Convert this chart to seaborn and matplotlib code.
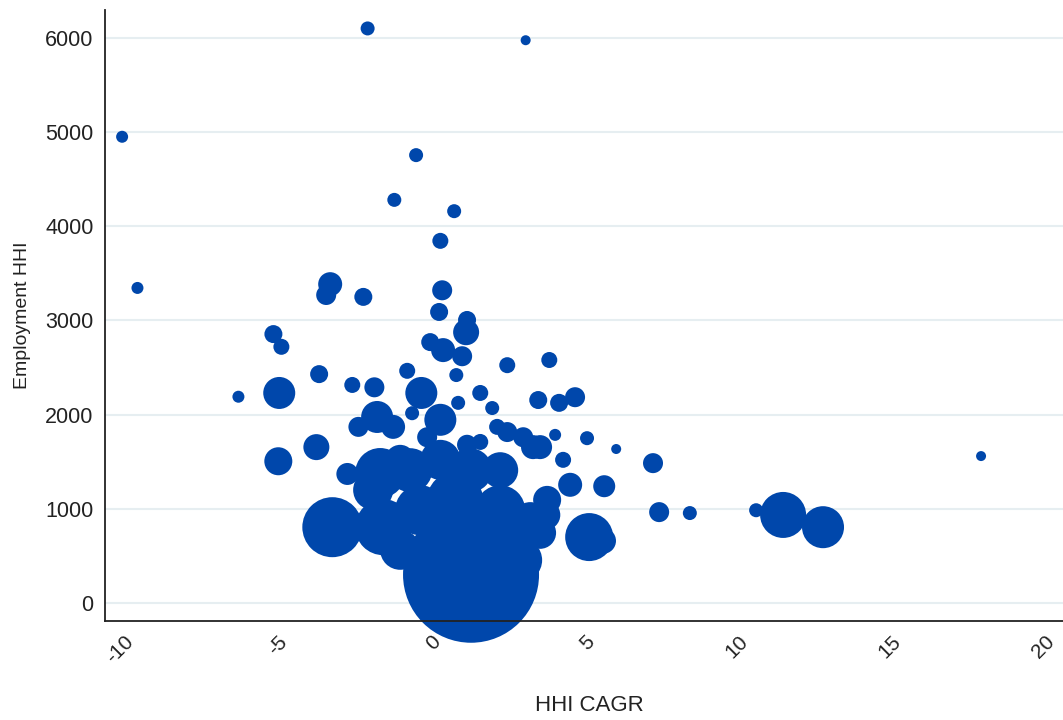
import matplotlib

matplotlib.use("Agg")
import matplotlib.pyplot as plt
import matplotlib.transforms as mtransforms
import numpy as np
import pandas as pd
import seaborn as sns

# HHI CAGR (%) per market
hhi_cagr = [
    -10.3, -9.8, -2.3, 2.85, -0.72, -1.43, 0.52, 0.07, -3.52, -3.65,
    -2.44, -5.37, -5.11, -6.51, -5.18, -3.88, -2.80, -2.08, -1.01, -0.55,
    -5.21, -3.97, -2.96, -3.45, -1.79, 1.07, 0.13, 0.03, 0.94, 0.91,
    -0.26, 0.16, 0.78, 0.59, 2.25, 3.62, 1.37, 0.65, 1.76, 3.26,
    3.94, 4.46, -0.85, 0.07, -1.99, -2.6, 3.81, 4.85, 1.92, 5.8,
    7.0, 4.07, 5.41, 4.3, 7.2, 8.2, 10.36, 11.24, 12.54, 17.69,
    4.92, 5.37, 3.32, 2.77, 3.55, 3.32, 2.67, -1.47, -0.36, -1.89,
    -0.91, 0.07, 1.04, 2.02, -0.59, 0.55, 2.02, 3.0, -1.24, 3.49,
    2.25, 3.09, 0.94, 1.37, -1.24, -2.12,
]

# Employment HHI per market
employment_hhi = [
    4950, 3345, 6100, 5975, 4755, 4280, 4160, 3845, 3385, 3270,
    3250, 2855, 2720, 2190, 2230, 2430, 2315, 2290, 2465, 2230,
    1505, 1655, 1370, 805, 805, 300, 3320, 3090, 3005, 2875,
    2770, 2685, 2620, 2420, 2525, 2580, 2230, 2125, 2070, 2155,
    2125, 2185, 2015, 1945, 1975, 1870, 1785, 1750, 1870, 1635,
    1485, 1520, 1240, 1255, 965, 955, 985, 935, 805, 1560,
    700, 660, 1655, 1760, 1095, 745, 455, 1870, 1760, 1380,
    1410, 1520, 1410, 1410, 985, 1095, 985, 880, 565, 935,
    1815, 1655, 1680, 1710, 1520, 1200,
]

# total employment per market (bubble area, relative units)
employment = [
    36, 36, 49, 25, 49, 49, 49, 64, 144, 100,
    81, 81, 64, 36, 256, 81, 64, 100, 64, 256,
    196, 169, 121, 900, 784, 4624, 100, 81, 81, 169,
    81, 144, 100, 49, 64, 64, 64, 49, 49, 81,
    81, 100, 49, 256, 256, 100, 36, 49, 64, 25,
    100, 64, 121, 144, 100, 49, 49, 529, 441, 25,
    576, 169, 144, 100, 196, 256, 484, 144, 100, 625,
    484, 400, 484, 324, 625, 784, 625, 324, 400, 225,
    100, 144, 100, 64, 225, 400,
]

df = pd.DataFrame({"HHI CAGR": hhi_cagr, "Employment HHI": employment_hhi, "Employment": employment})

DPI = 100
# marker area in points^2 proportional to employment (radius in px ~ sqrt(employment))
px_to_pt = 72 / DPI
emin, emax = min(employment), max(employment)
size_range = ((2 * px_to_pt) ** 2 * emin, (2 * px_to_pt) ** 2 * emax)

sns.set_style("white")
plt.rcParams["font.family"] = ["Liberation Sans", "DejaVu Sans"]
plt.rcParams["axes.unicode_minus"] = False

fig = plt.figure(figsize=(10.63, 7.2), dpi=DPI)
ax = fig.add_axes([0.099, 0.1375, 0.901, 0.8485])

sns.scatterplot(
    data=df, x="HHI CAGR", y="Employment HHI", size="Employment",
    sizes=size_range, size_norm=(emin, emax), color="#0047AB",
    edgecolor="none", alpha=1.0, legend=False, ax=ax,
)
for coll in ax.collections:
    coll.set_clip_on(False)
    coll.set_zorder(1)

ax.set_xlim(-10.85, 20.36)
ax.set_ylim(-191, 6295)
ax.set_xticks(np.arange(-10, 21, 5))
ax.set_yticks(np.arange(0, 6001, 1000))
ax.yaxis.grid(True, color="#e6eef1", linewidth=1.5, zorder=0)
ax.set_axisbelow(True)

for side in ["top", "right"]:
    ax.spines[side].set_visible(False)
for side in ["left", "bottom"]:
    ax.spines[side].set_color("#222222")
    ax.spines[side].set_linewidth(1.3)
    ax.spines[side].set_zorder(5)

ax.tick_params(axis="both", which="major", direction="out", length=5, width=1.2,
               color="#222222", labelsize=15.5, labelcolor="#222222")
ax.tick_params(axis="x", pad=3, labelsize=15)

# rotated x labels, nudged a little left so the last one fits in the figure
shift = mtransforms.ScaledTranslation(-5 / 72, 0, fig.dpi_scale_trans)
for lbl in ax.get_xticklabels():
    lbl.set_rotation(45)
    lbl.set_ha("right")
    lbl.set_va("top")
    lbl.set_rotation_mode("anchor")
    lbl.set_transform(lbl.get_transform() + shift)

ax.set_xlabel("HHI CAGR", fontsize=16, color="#222222", va="center")
ax.xaxis.set_label_coords(0.505, -0.139)
ax.set_ylabel("Employment HHI", fontsize=14, color="#222222", va="center")
ax.yaxis.set_label_coords(-0.086, 0.5)

fig.savefig("out.png", dpi=DPI)
plt.close(fig)
